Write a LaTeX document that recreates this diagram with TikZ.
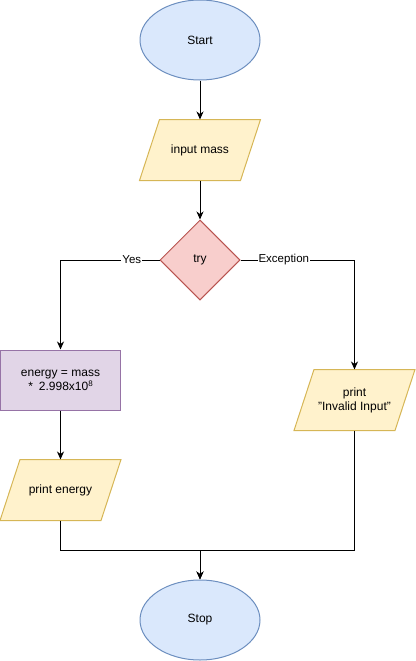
\documentclass[tikz,border=0pt]{standalone}
\usepackage{fontspec}
\setmainfont{Liberation Sans}
\usetikzlibrary{shapes.geometric,arrows.meta,calc,backgrounds}
\definecolor{blueF}{HTML}{DAE8FC}\definecolor{blueS}{HTML}{6C8EBF}
\definecolor{yelF}{HTML}{FFF2CC}\definecolor{yelS}{HTML}{D6B656}
\definecolor{redF}{HTML}{F8CECC}\definecolor{redS}{HTML}{B85450}
\definecolor{purF}{HTML}{E1D5E7}\definecolor{purS}{HTML}{9673A6}
\tikzset{
  base/.style={font=\fontsize{12}{14}\selectfont, align=center, inner sep=0pt, line width=1pt},
  term/.style={base, ellipse, draw=blueS, fill=blueF, minimum width=120pt, minimum height=80pt},
  iobox/.style={base, rectangle, minimum width=120pt, minimum height=60pt},
  iofill/.style={draw=yelS, fill=yelF, line width=1pt, line join=miter},
  decide/.style={base, diamond, draw=redS, fill=redF, minimum width=80pt, minimum height=80pt, aspect=1},
  procbox/.style={base, rectangle, draw=purS, fill=purF, minimum width=120pt, minimum height=60pt},
  conn/.style={line width=1pt, -{Stealth[length=8pt,width=7pt,inset=2.5pt]}},
  lab/.style={font=\fontsize{11.5}{13}\selectfont, fill=white, inner sep=1pt}
}
\newcommand\ioshape[1]{%
  \begin{scope}[on background layer]
  \path[iofill] ($(#1.north west)+(20pt,0)$) -- (#1.north east) -- ($(#1.south east)+(-20pt,0)$) -- (#1.south west) -- cycle;
  \end{scope}}
\begin{document}
\begin{tikzpicture}[x=1pt,y=-1pt]
\useasboundingbox (0,0) rectangle (415,661);
\node[term] (start) at (200,40) {Start};
\node[iobox] (input) at (200,150) {input mass};
\ioshape{input}
\node[decide] (try) at (200,260) {try};
\node[procbox] (energy) at (60.5,380) {energy = mass\\ *\enspace 2.998x10{\fontsize{8}{8}\selectfont\raisebox{4pt}{8}}};
\node[iobox] (printE) at (60.5,490) {print energy};
\ioshape{printE}
\node[iobox] (invalid) at (354.5,400) {print\\ "Invalid Input"};
\ioshape{invalid}
\node[term] (stop) at (200,620) {Stop};
\coordinate (m) at (200,550);

\draw[conn] (start) -- (input);
\draw[conn] (input) -- (try);
\draw[conn] (try.west) -| node[lab, pos=0.14] {Yes} (energy.north);
\draw[conn] (try.east) -| node[lab, pos=0.19] {Exception} (invalid.north);
\draw[conn] (energy) -- (printE);
\draw[conn] (printE.south) |- (m) -- (stop.north);
\draw[conn] (invalid.south) |- (m) -- (stop.north);
\end{tikzpicture}
\end{document}
